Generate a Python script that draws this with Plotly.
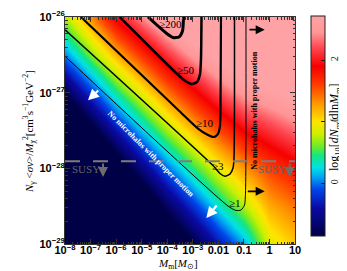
import numpy as np
import plotly.graph_objects as go

# ---------------- data (log10 units) ----------------
logM_grid = [-8, -7, -6, -5, -4, -3, -2, -1, 0, 1]
logsv_grid = [-29, -28.5, -28, -27.5, -27, -26.5, -26]
# log10[dN_m/dlnM_m] (rows = logsv_grid, cols = logM_grid)
z_grid = [
    [-4.24, -3.46, -2.74, -2.06, -1.44, -0.88, -0.36, 0.10, 0.85, 1.12],
    [-3.39, -2.64, -1.95, -1.32, -0.73, -0.20, 0.28, 0.75, 1.22, 1.42],
    [-2.53, -1.83, -1.17, -0.57, -0.02, 0.47, 0.91, 1.30, 1.60, 1.80],
    [-1.68, -1.01, -0.39, 0.18, 0.69, 1.15, 1.55, 1.91, 2.10, 2.30],
    [-0.82, -0.19, 0.40, 0.92, 1.40, 1.82, 2.19, 2.51, 2.65, 2.80],
    [0.03, 0.63, 1.18, 1.67, 2.11, 2.50, 2.83, 3.11, 3.20, 3.30],
    [0.75, 1.35, 1.96, 2.42, 2.82, 3.17, 3.47, 3.71, 3.70, 3.80],
]

# contour lines of number of microhalos with proper motion
c200_logM = [-4.752, -4.048, -3.774, -3.539, -3.402, -3.363]
c200_logsv = [-26.0, -26.211, -26.271, -26.264, -26.185, -26.0]
c50_logM = [-5.860, -3.578, -3.265, -3.030, -2.835, -2.717, -2.678, -2.659]
c50_logsv = [-26.0, -26.763, -26.852, -26.885, -26.859, -26.753, -26.542, -26.0]
c10_logM = [-7.374, -3.578, -2.796, -2.404, -2.170, -2.013, -1.935, -1.915, -1.896]
c10_logsv = [-26.0, -27.225, -27.474, -27.559, -27.586, -27.546, -27.440, -27.203, -26.0]
c3_logM = [-8.0, -2.209, -1.935, -1.739, -1.544, -1.426, -1.387, -1.368]
c3_logsv = [-26.168, -27.963, -28.068, -28.105, -28.075, -27.996, -27.863, -26.0]
c1_logM = [-8.0, -1.622, -1.309, -1.113, -0.976, -0.937, -0.918]
c1_logsv = [-26.519, -28.498, -28.557, -28.551, -28.485, -28.326, -26.0]

contour_labels = ["≥200", "≥50", "≥10", "≥3", "≥1"]
label_logM = [-3.891, -3.254, -2.534, -2.013, -1.360]
label_logsv = [-26.093, -26.696, -27.401, -27.973, -28.458]

susy_logsv = -27.907
x_tickvals_log = [-8, -7, -6, -5, -4, -3, -2, -1, 0, 1]
x_ticktext = ["10<sup>−8</sup>", "10<sup>−7</sup>", "10<sup>−6</sup>", "10<sup>−5</sup>",
              "10<sup>−4</sup>", "10<sup>−3</sup>", "0.01", "0.1", "1", "10"]
y_tickvals_log = [-29, -28, -27, -26]
y_ticktext = ["10<sup>−29</sup>", "10<sup>−28</sup>", "10<sup>−27</sup>", "10<sup>−26</sup>"]

# ---------------- figure ----------------
ZMIN, ZMAX = -0.86, 2.72
def nz(v):
    return (v - ZMIN) / (ZMAX - ZMIN)

colorscale = [
    [nz(-0.86), "rgb(0,0,70)"],
    [nz(-0.40), "rgb(10,10,165)"],
    [nz(-0.10), "rgb(0,70,235)"],
    [nz(0.10), "rgb(0,165,240)"],
    [nz(0.25), "rgb(0,225,230)"],
    [nz(0.45), "rgb(20,230,130)"],
    [nz(0.60), "rgb(110,235,40)"],
    [nz(0.80), "rgb(205,240,0)"],
    [nz(1.00), "rgb(255,228,0)"],
    [nz(1.30), "rgb(255,150,0)"],
    [nz(1.60), "rgb(255,60,0)"],
    [nz(1.90), "rgb(245,0,0)"],
    [nz(2.20), "rgb(255,70,80)"],
    [nz(2.45), "rgb(255,150,150)"],
    [nz(2.72), "rgb(255,162,166)"],
]

PL, PR, PT, PB = 57, 287, 9, 236   # plot area in pixels
W, H = 347, 271
def px_x(p):
    return (p - PL) / (PR - PL)
def px_y(p):
    return (PB - p) / (PB - PT)

fig = go.Figure()
fig.add_trace(go.Heatmap(
    x=[10.0 ** v for v in logM_grid],
    y=[10.0 ** v for v in logsv_grid],
    z=z_grid, zsmooth="best", zmin=ZMIN, zmax=ZMAX,
    colorscale=colorscale, showscale=True,
    colorbar=dict(
        thickness=14, len=220, lenmode="pixels",
        x=px_x(303), xanchor="left", xpad=0,
        y=px_y(8), yanchor="top", ypad=0,
        outlinewidth=1, outlinecolor="#222",
        tickvals=[-1, 0, 1, 2], ticktext=["−1", "0", "1", "2"],
        ticks="inside", ticklen=4, tickcolor="#222", tickangle=-90,
        tickfont=dict(family="Liberation Serif", size=10, color="#111"),
    ),
    hoverinfo="skip",
))

contours = [
    (c200_logM, c200_logsv, 3.0),
    (c50_logM, c50_logsv, 2.5),
    (c10_logM, c10_logsv, 2.2),
    (c3_logM, c3_logsv, 1.5),
    (c1_logM, c1_logsv, 1.0),
]
for lm, ls, w in contours:
    fig.add_trace(go.Scatter(
        x=[10.0 ** v for v in lm], y=[10.0 ** v for v in ls], mode="lines",
        line=dict(color="black", width=w, shape="spline", smoothing=0.6),
        showlegend=False, hoverinfo="skip"))

# SUSY dashed line
fig.add_trace(go.Scatter(
    x=[10.0 ** x_tickvals_log[0], 10.0 ** x_tickvals_log[-1]],
    y=[10.0 ** susy_logsv, 10.0 ** susy_logsv], mode="lines",
    line=dict(color="rgb(125,125,125)", width=2, dash="15px,13px"),
    showlegend=False, hoverinfo="skip"))

ann = []
for t, lm, ls in zip(contour_labels, label_logM, label_logsv):
    ann.append(dict(x=lm, y=ls, text=t, showarrow=False, xref="x", yref="y",
                    font=dict(family="Liberation Serif", size=11, color="black")))

# SUSY labels and arrows
for tx, ax_ in [(-7.166, -6.513), (0.100, 0.792)]:
    ann.append(dict(x=tx, y=-28.009, text="SUSY", showarrow=False,
                    font=dict(family="Liberation Serif", size=11, color="rgb(100,100,100)")))
    ann.append(dict(x=ax_, y=-28.115, ax=ax_, ay=-27.916, axref="x", ayref="y",
                    text="", showarrow=True, arrowhead=2, arrowsize=1, arrowwidth=2,
                    arrowcolor="rgb(110,110,110)"))

# white arrows (down-left)
for (tx, ty, hx, hy) in [(-6.642, -26.952, -7.100, -27.101), (-2.013, -28.471, -2.471, -28.656)]:
    ann.append(dict(x=hx, y=hy, ax=tx, ay=ty, axref="x", ayref="y", text="",
                    showarrow=True, arrowhead=2, arrowsize=1, arrowwidth=2.2, arrowcolor="white"))
# black arrows (right)
for (tx, hx, yy) in [(-0.839, -0.186, -26.168), (-0.906, -0.186, -28.304)]:
    ann.append(dict(x=hx, y=yy, ax=tx, ay=yy, axref="x", ayref="y", text="",
                    showarrow=True, arrowhead=2, arrowsize=1, arrowwidth=1.8, arrowcolor="black"))

ann.append(dict(x=-4.654, y=-27.804, text="<b>No microhalos with proper motion</b>",
                showarrow=False, textangle=45,
                font=dict(family="Liberation Serif", size=8, color="white")))
ann.append(dict(x=-0.577, y=-27.242, text="<b>No microhalos with proper motion</b>",
                showarrow=False, textangle=-90,
                font=dict(family="Liberation Serif", size=8, color="black")))

# axis titles and colorbar title
ann.append(dict(xref="paper", yref="paper", x=px_x(170), y=px_y(264), showarrow=False,
                text="<i>M</i><sub>m</sub>[<i>M</i><sub>⊙</sub>]", borderpad=0,
                font=dict(family="Liberation Serif", size=11, color="black")))
ann.append(dict(xref="paper", yref="paper", x=px_x(11), y=px_y(124), showarrow=False, textangle=-90,
                text="<i>N</i><sub>γ</sub> &lt;<i>σv</i>&gt;/<i>M</i><sub>χ</sub><sup>2</sup>[cm<sup>3</sup>s<sup>−1</sup>GeV<sup>−2</sup>]",
                font=dict(family="Liberation Serif", size=11, color="black")))
ann.append(dict(xref="paper", yref="paper", x=px_x(337), y=px_y(120), showarrow=False, textangle=-90,
                text="log<sub>10</sub>[<i>dN</i><sub>m</sub>/dln<i>M</i><sub>m</sub>]",
                font=dict(family="Liberation Serif", size=12, color="black")))

minor_x = [k * 10.0 ** d for d in range(-8, 1) for k in range(2, 10)]
minor_y = [k * 10.0 ** d for d in range(-29, -26) for k in range(2, 10)]

axis_common = dict(showline=True, linecolor="#333", linewidth=1, mirror="ticks",
                   ticks="inside", ticklen=5, tickcolor="#333", showgrid=False, zeroline=False,
                   automargin=False,
                   tickfont=dict(family="Liberation Sans", size=11, color="black", weight="bold"))
fig.update_layout(
    width=W, height=H,
    margin=dict(l=PL, r=W - PR, t=PT, b=H - PB, autoexpand=False),
    paper_bgcolor="white", plot_bgcolor="white",
    showlegend=False,
    xaxis=dict(type="log", range=[-8, 1],
               tickvals=[10.0 ** v for v in x_tickvals_log], ticktext=x_ticktext,
               ticklabelstandoff=-4,
               minor=dict(tickvals=minor_x, ticks="inside", ticklen=2.5, tickcolor="#333"),
               **axis_common),
    yaxis=dict(type="log", range=[-29, -26],
               tickvals=[10.0 ** v for v in y_tickvals_log], ticktext=y_ticktext,
               ticklabelstandoff=-3,
               minor=dict(tickvals=minor_y, ticks="inside", ticklen=2.5, tickcolor="#333"),
               **axis_common),
    annotations=ann,
)
fig.write_html("out.html")
